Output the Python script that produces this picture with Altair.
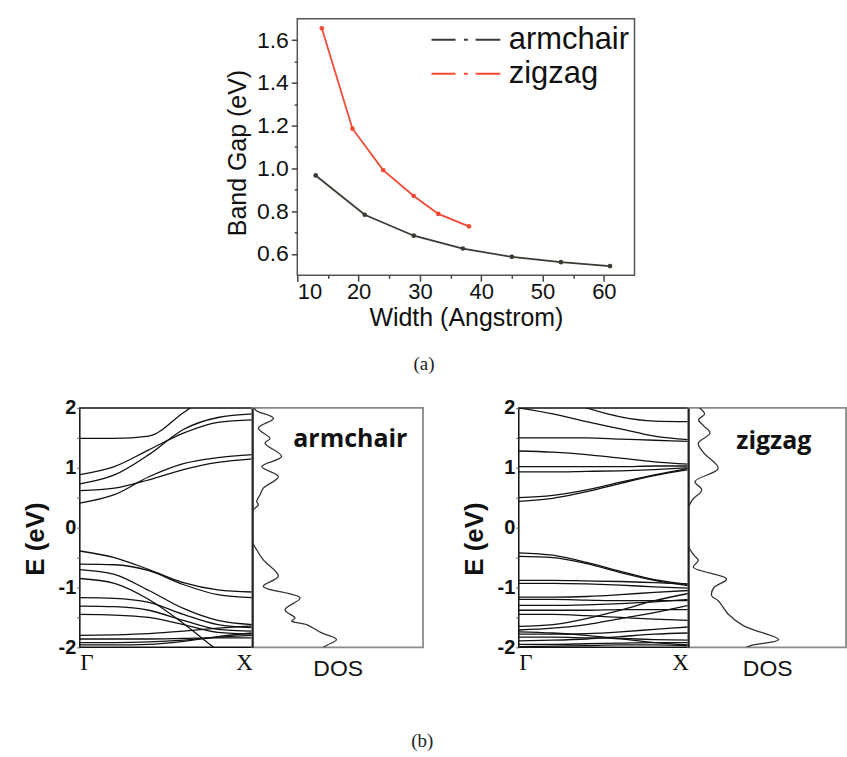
import altair as alt
import pandas as pd

SANS = "Liberation Sans"
SERIF = "Liberation Serif"
LABEL_SANS = "Open Sans"

# ---------------- (a) band gap versus ribbon width ----------------
series_names = ["armchair", "zigzag"]
series_colors = ["#3b3a33", "#f24a36"]
arm_width = [13, 21, 29, 37, 45, 53, 61]
arm_gap = [0.967, 0.783, 0.685, 0.625, 0.586, 0.561, 0.543]
zig_width = [14, 19, 24, 29, 33, 38]
zig_gap = [1.656, 1.186, 0.992, 0.871, 0.787, 0.729]
width_ticks = [10, 15, 20, 25, 30, 35, 40, 45, 50, 55, 60]
gap_ticks = [0.6, 0.7, 0.8, 0.9, 1.0, 1.1, 1.2, 1.3, 1.4, 1.5, 1.6]

# ---------------- (b) band structures and DOS ----------------
k_grid = [0.0, 0.2, 0.4, 0.6, 0.8, 1.0]
k_labels = ["\u0393", "X"]
energy_ticks = [-2, -1.5, -1, -0.5, 0, 0.5, 1, 1.5, 2]

arm_bands = [
    [1.49, 1.49, 1.53, 1.92, 2.30, 2.50],
    [0.886, 1.02, 1.30, 1.58, 1.76, 1.80],
    [0.73, 0.88, 1.22, 1.64, 1.84, 1.90],
    [0.62, 0.66, 0.80, 0.97, 1.09, 1.15],
    [0.41, 0.55, 0.85, 1.07, 1.17, 1.22],
    [-0.39, -0.50, -0.70, -0.92, -1.04, -1.075],
    [-0.61, -0.62, -0.72, -0.95, -1.12, -1.17],
    [-0.70, -0.78, -1.05, -1.35, -1.55, -1.62],
    [-0.85, -0.93, -1.20, -1.60, -2.05, -2.40],
    [-1.17, -1.18, -1.25, -1.45, -1.62, -1.67],
    [-1.31, -1.32, -1.38, -1.55, -1.70, -1.73],
    [-1.45, -1.46, -1.50, -1.62, -1.75, -1.78],
    [-1.80, -1.79, -1.77, -1.73, -1.68, -1.64],
    [-1.86, -1.86, -1.86, -1.85, -1.84, -1.84],
    [-1.92, -1.92, -1.91, -1.88, -1.83, -1.80],
    [-1.96, -1.96, -1.95, -1.90, -1.82, -1.76],
]

zig_bands = [
    [2.00, 1.90, 1.77, 1.65, 1.53, 1.47],
    [2.40, 2.20, 2.00, 1.85, 1.78, 1.77],
    [1.50, 1.50, 1.50, 1.48, 1.46, 1.44],
    [1.28, 1.26, 1.22, 1.16, 1.10, 1.06],
    [1.02, 1.02, 1.02, 1.02, 1.03, 1.03],
    [0.93, 0.93, 0.94, 0.95, 0.97, 1.00],
    [0.50, 0.54, 0.63, 0.76, 0.88, 0.99],
    [0.44, 0.49, 0.60, 0.74, 0.87, 0.97],
    [-0.42, -0.46, -0.58, -0.73, -0.87, -0.95],
    [-0.48, -0.50, -0.60, -0.75, -0.88, -0.97],
    [-0.88, -0.88, -0.89, -0.90, -0.92, -0.94],
    [-0.93, -0.93, -0.94, -0.96, -0.99, -1.01],
    [-1.16, -1.16, -1.15, -1.12, -1.08, -1.05],
    [-1.20, -1.20, -1.21, -1.22, -1.22, -1.22],
    [-1.30, -1.30, -1.29, -1.27, -1.24, -1.20],
    [-1.38, -1.38, -1.38, -1.37, -1.37, -1.37],
    [-1.45, -1.45, -1.47, -1.50, -1.53, -1.55],
    [-1.65, -1.62, -1.52, -1.38, -1.22, -1.10],
    [-1.71, -1.68, -1.62, -1.52, -1.42, -1.30],
    [-1.78, -1.78, -1.77, -1.74, -1.70, -1.66],
    [-1.83, -1.83, -1.84, -1.85, -1.87, -1.88],
    [-1.89, -1.88, -1.86, -1.82, -1.78, -1.76],
    [-1.95, -1.95, -1.94, -1.93, -1.92, -1.92],
    [-1.74, -1.76, -1.80, -1.86, -1.92, -1.96],
    [-1.99, -1.98, -1.97, -1.96, -1.96, -1.97],
]

arm_dos_E = [2.0, 1.95, 1.825, 1.66, 1.49, 1.41, 1.19, 1.02, 0.85, 0.66, 0.55, 0.44,
             0.38, 0.30, 0.24, -0.23, -0.37, -0.54, -0.81, -0.98, -1.175, -1.37,
             -1.51, -1.56, -1.62, -1.75, -1.87, -1.96, -2.0]
arm_dos_v = [1.0, 2.5, 12.3, 3.5, 10.3, 7.4, 17.1, 5.5, 15.2, 6.4, 4.5, 2.5,
             3.5, 0.6, 0.0, 0.0, 2.5, 6.4, 15.2, 6.4, 27.9, 19.1,
             25.0, 23.0, 31.8, 40.0, 49.3, 44.0, 41.5]

zig_dos_E = [2.0, 1.9, 1.8, 1.7, 1.58, 1.41, 1.25, 0.99, 0.77, 0.63, 0.46, 0.32,
             -0.30, -0.45, -0.55, -0.66, -0.86, -1.0, -1.14, -1.22, -1.45, -1.64,
             -1.87, -1.96, -2.0]
zig_dos_v = [6.5, 9.5, 6.0, 9.0, 12.7, 5.8, 9.0, 17.5, 3.9, 7.8, 2.2, 0.0,
             0.0, 3.0, 5.8, 2.9, 22.4, 15.0, 13.7, 17.5, 23.6, 32.4,
             52.9, 38.0, 34.0]


def bands_frame(bands):
    rows = []
    for b, energies in enumerate(bands):
        for k, e in zip(k_grid, energies):
            rows.append({"band": b, "k": k, "E": e})
    return pd.DataFrame(rows)


def dos_frame(energies, values):
    return pd.DataFrame({"idx": list(range(len(energies))), "E": energies, "dos": values})


# ---------------- chart (a) ----------------
gap_df = pd.DataFrame({
    "width": arm_width + zig_width,
    "gap": arm_gap + zig_gap,
    "series": [series_names[0]] * len(arm_width) + [series_names[1]] * len(zig_width),
})

LEGEND_PATH = "M-2.3,0H-0.69M-0.13,0H0.13M0.65,0H2.3"

x_top = alt.X(
    "width:Q",
    scale=alt.Scale(domain=[10, 65], nice=False, zero=False),
    axis=alt.Axis(
        values=width_ticks,
        labelExpr="datum.value % 10 === 0 ? datum.label : ''",
        tickSize={"condition": {"test": "datum.value % 10 === 0", "value": 6}, "value": 3},
        labelOverlap=False, domain=False, grid=False,
        tickColor="#444", tickWidth=1.5,
        labelFont=SANS, labelFontSize=22, labelColor="#111", labelPadding=0,
        title="Width (Angstrom)", titleFont=SANS, titleFontSize=25,
        titleFontWeight="normal", titleColor="#111", titlePadding=3,
    ),
)
y_top = alt.Y(
    "gap:Q",
    scale=alt.Scale(domain=[0.5, 1.7], nice=False, zero=False),
    axis=alt.Axis(
        values=gap_ticks,
        labelExpr="round(datum.value * 10) % 2 === 0 ? format(datum.value, '.1f') : ''",
        tickSize={"condition": {"test": "round(datum.value * 10) % 2 === 0", "value": 6}, "value": 3},
        labelOverlap=False, domain=False, grid=False,
        tickColor="#444", tickWidth=1.5,
        labelFont=SANS, labelFontSize=23, labelColor="#111", labelPadding=3,
        title="Band Gap (eV)", titleFont=SANS, titleFontSize=25,
        titleFontWeight="normal", titleColor="#111", titlePadding=6, titleY=134,
    ),
)
color_scale = alt.Scale(domain=series_names, range=series_colors)

gap_lines = alt.Chart(gap_df).mark_line(strokeWidth=1.8).encode(
    x=x_top, y=y_top,
    color=alt.Color(
        "series:N", scale=color_scale,
        legend=alt.Legend(
            orient="none", legendX=371, legendY=5, title=None,
            symbolType=LEGEND_PATH, symbolSize=900, symbolStrokeWidth=2,
            labelFont=SANS, labelFontSize=31, labelColor="#111",
            labelOffset=27, rowPadding=3, padding=0,
        ),
    ),
)
gap_points = alt.Chart(gap_df).mark_point(shape="circle", filled=True, size=22, opacity=1).encode(
    x=x_top, y=y_top,
    fill=alt.Fill("series:N", scale=color_scale, legend=None),
)
top_chart = alt.layer(gap_lines, gap_points).properties(
    width=338, height=257,
    view=alt.ViewBackground(stroke="#555", strokeWidth=1.5),
    title=alt.TitleParams("(a)", orient="bottom", anchor="middle", frame="group",
                          font=SERIF, fontSize=19, fontWeight="normal", color="#222",
                          offset=25, dx=-42),
)

spacer = alt.Chart(pd.DataFrame({"s": [0]})).mark_point(opacity=0).encode(
    x=alt.value(0), y=alt.value(0)
).properties(width=218, height=257, view=alt.ViewBackground(strokeOpacity=0))

top_row = alt.hconcat(spacer, top_chart, spacing=0, bounds="flush")


# ---------------- chart (b) ----------------
def band_chart(df, w):
    return alt.Chart(df).mark_line(clip=True, interpolate="monotone", color="#111", strokeWidth=1.3).encode(
        x=alt.X("k:Q", scale=alt.Scale(domain=[0, 1], nice=False, zero=False),
                axis=alt.Axis(values=[0, 1],
                              labelExpr=f"datum.value < 0.5 ? '{k_labels[0]}' : '{k_labels[1]}'",
                              ticks=False, domain=False, grid=False,
                              labelFont=SERIF, labelFontSize=23, labelColor="#111",
                              labelPadding=4, title=None)),
        y=alt.Y("E:Q", scale=alt.Scale(domain=[-2, 2], nice=False, zero=False),
                axis=alt.Axis(values=energy_ticks,
                              labelExpr="datum.value % 1 === 0 ? '' + datum.value : ''",
                              tickSize=3, tickColor="#555", domain=False, grid=False,
                              labelOverlap=False,
                              labelFont=SANS, labelFontWeight="bold", labelFontSize=20,
                              labelColor="#111", labelPadding=1,
                              title="E (eV)", titleFont=SANS, titleFontWeight="bold",
                              titleFontSize=26, titleColor="#111", titlePadding=10, titleY=131)),
        detail="band:N",
    ).properties(width=w, height=240, view=alt.ViewBackground(stroke="#111", strokeWidth=1.5))


def dos_chart(df, w, dmax, label, label_dx, label_offset):
    return alt.Chart(df).mark_line(clip=True, interpolate="catmull-rom", color="#333", strokeWidth=1.3).encode(
        x=alt.X("dos:Q", scale=alt.Scale(domain=[0, dmax], nice=False, zero=False),
                axis=alt.Axis(labels=False, ticks=False, domain=False, grid=False,
                              title="DOS", titleFont=SANS, titleFontSize=23,
                              titleFontWeight="normal", titleColor="#111", titlePadding=10)),
        y=alt.Y("E:Q", scale=alt.Scale(domain=[-2, 2], nice=False, zero=False),
                axis=alt.Axis(labels=False, ticks=False, grid=False, domain=True,
                              domainColor="#111", domainWidth=1.5, title=None)),
        order="idx:Q",
    ).properties(
        width=w, height=240,
        view=alt.ViewBackground(stroke="#8a8a8a", strokeWidth=1.8),
        title=alt.TitleParams(label, orient="top", anchor="start", offset=label_offset, dx=label_dx,
                              font=LABEL_SANS, fontWeight="bold", fontSize=25, color="#111"),
    )


left_pair = alt.hconcat(
    band_chart(bands_frame(arm_bands), 173),
    dos_chart(dos_frame(arm_dos_E, arm_dos_v), 171, 100, "armchair", 41, -44),
    spacing=0, bounds="flush",
)
right_pair = alt.hconcat(
    band_chart(bands_frame(zig_bands), 170),
    dos_chart(dos_frame(zig_dos_E, zig_dos_v), 158, 92.4, "zigzag", 48, -46),
    spacing=0, bounds="flush",
)
bottom_row = alt.hconcat(
    left_pair, right_pair, spacing=36,
    title=alt.TitleParams("(b)", orient="bottom", anchor="middle",
                          font=SERIF, fontSize=19, fontWeight="normal", color="#222",
                          offset=51, dx=-12),
)

chart = alt.vconcat(top_row, bottom_row, spacing=22).properties(
    padding={"left": 21, "top": 15, "right": 0, "bottom": 0}
)

chart.save("out.html", embed_options={"renderer": "svg", "actions": False})
